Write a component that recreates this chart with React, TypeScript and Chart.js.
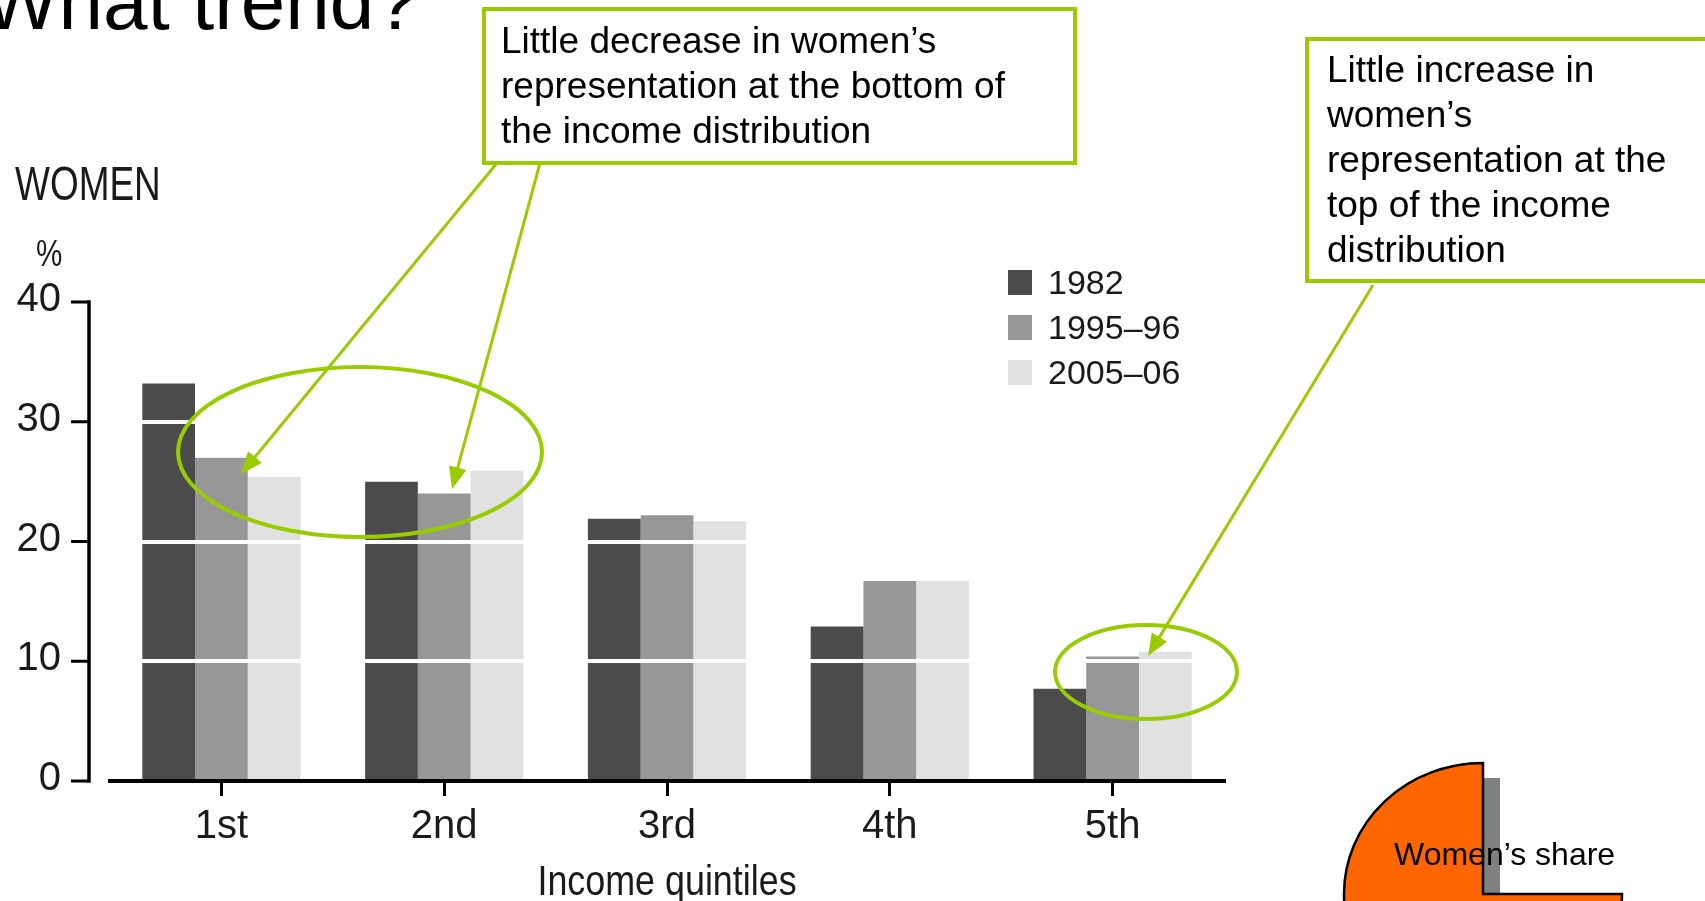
import React, { useEffect, useRef } from "react";
import { Chart, registerables } from "chart.js";

Chart.register(...registerables);

// ---- data ----
const categories = ["1st", "2nd", "3rd", "4th", "5th"];
const seriesLabels = ["1982", "1995–96", "2005–06"];
const values1982 = [33.2, 25.0, 21.9, 12.9, 7.7];
const values1995 = [27.0, 24.0, 22.2, 16.7, 10.4];
const values2005 = [25.4, 25.9, 21.7, 16.7, 10.8];
const seriesColors = ["#4b4b4b", "#979797", "#e1e1e1"];
const yTickValues = [0, 10, 20, 30, 40];
const xTitle = "Income quintiles";

const SANS = "'Liberation Sans', Arial, sans-serif";
const GREEN = "#99cc00";

// top position of a text block so that its first baseline lands at `baseline`
const topFor = (baseline: number, fs: number, lh: number) =>
  baseline - (lh - 1.117 * fs) / 2 - 0.905 * fs;

const customAxisPlugin = {
  id: "customAxis",
  afterDraw(chart: any) {
    const ctx = chart.ctx as CanvasRenderingContext2D;
    const y = chart.scales.y;
    const area = chart.chartArea;
    const axisX = area.left - 21;
    const top = y.getPixelForValue(yTickValues[yTickValues.length - 1]);
    const bottom = y.getPixelForValue(0);
    ctx.save();
    ctx.strokeStyle = "#000";
    ctx.lineWidth = 3.5;
    ctx.lineCap = "butt";
    ctx.beginPath();
    ctx.moveTo(axisX, top - 1.75);
    ctx.lineTo(axisX, bottom + 1.75);
    ctx.stroke();
    ctx.lineWidth = 3;
    ctx.beginPath();
    yTickValues.forEach((v) => {
      const py = y.getPixelForValue(v);
      ctx.moveTo(axisX - 18, py);
      ctx.lineTo(axisX, py);
    });
    ctx.stroke();
    ctx.fillStyle = "#1a1a1a";
    ctx.font = `40px ${SANS}`;
    ctx.textAlign = "right";
    ctx.textBaseline = "middle";
    yTickValues.forEach((v) => {
      const py = y.getPixelForValue(v);
      ctx.fillText(String(v), axisX - 28, py - 2);
    });

    // x-axis title, condensed
    ctx.save();
    ctx.translate((area.left + area.right) / 2, 895);
    ctx.scale(0.834, 1);
    ctx.textAlign = "center";
    ctx.textBaseline = "alphabetic";
    ctx.font = `43px ${SANS}`;
    ctx.fillText(xTitle, 0, 0);
    ctx.restore();

    // legend
    const lx = 1008;
    const ly = 270;
    const step = 45;
    ctx.textAlign = "left";
    ctx.textBaseline = "alphabetic";
    ctx.font = `34px ${SANS}`;
    chart.data.datasets.forEach((ds: any, i: number) => {
      ctx.fillStyle = ds.backgroundColor;
      ctx.fillRect(lx, ly + i * step, 24, 25);
      ctx.fillStyle = "#1a1a1a";
      ctx.fillText(ds.label, lx + 40, ly + 24 + i * step);
    });
    ctx.restore();
  },
};

function Arrow({ x1, y1, x2, y2 }: { x1: number; y1: number; x2: number; y2: number }) {
  const dx = x2 - x1;
  const dy = y2 - y1;
  const len = Math.hypot(dx, dy);
  const ux = dx / len;
  const uy = dy / len;
  const L = 22;
  const W = 9;
  const bx = x2 - ux * L;
  const by = y2 - uy * L;
  const pts = `${x2},${y2} ${bx - uy * W},${by + ux * W} ${bx + uy * W},${by - ux * W}`;
  return (
    <g>
      <line x1={x1} y1={y1} x2={bx + ux * 2} y2={by + uy * 2} stroke={GREEN} strokeWidth={3} />
      <polygon points={pts} fill={GREEN} />
    </g>
  );
}

export default function App() {
  const canvasRef = useRef<HTMLCanvasElement | null>(null);

  useEffect(() => {
    const canvas = canvasRef.current;
    if (!canvas) return;
    const allValues = [values1982, values1995, values2005];
    const chart = new Chart(canvas, {
      type: "bar",
      data: {
        labels: categories,
        datasets: allValues.map((vals, i) => ({
          label: seriesLabels[i],
          data: vals,
          backgroundColor: seriesColors[i],
          borderWidth: 0,
          categoryPercentage: 0.71,
          barPercentage: 1,
        })),
      },
      options: {
        responsive: false,
        animation: false,
        devicePixelRatio: 1,
        layout: { padding: { left: 110, right: 481, top: 302, bottom: 43 } },
        plugins: { legend: { display: false }, tooltip: { enabled: false } },
        scales: {
          x: {
            type: "category",
            offset: true,
            grid: {
              display: true,
              drawOnChartArea: false,
              drawTicks: true,
              tickLength: 15,
              color: "#000",
              lineWidth: 3,
              offset: false,
            },
            border: { display: true, color: "#000", width: 4, z: 2 },
            ticks: {
              font: { family: SANS, size: 40, lineHeight: 1.2 },
              color: "#1a1a1a",
              padding: 7,
              maxRotation: 0,
              autoSkip: false,
            },
            title: { display: false },
          },
          y: {
            min: 0,
            max: 40,
            ticks: { stepSize: 10, display: false },
            grid: {
              color: (c: any) =>
                c.tick && c.tick.value > 0 && c.tick.value < 40 ? "#ffffff" : "rgba(0,0,0,0)",
              lineWidth: 4,
              drawTicks: false,
              z: 1,
            },
            border: { display: false },
          },
        },
      },
      plugins: [customAxisPlugin],
    } as any);
    return () => chart.destroy();
  }, []);

  const boxText: React.CSSProperties = {
    position: "absolute",
    boxSizing: "border-box",
    border: `4px solid ${GREEN}`,
    fontFamily: SANS,
    fontSize: 37,
    lineHeight: "45px",
    color: "#000",
    whiteSpace: "nowrap",
  };

  return (
    <div
      style={{
        position: "fixed",
        left: 0,
        top: 0,
        width: 1705,
        height: 901,
        overflow: "hidden",
        background: "#fff",
      }}
    >
      <canvas
        ref={canvasRef}
        width={1705}
        height={901}
        style={{ position: "absolute", left: 0, top: 0, width: 1705, height: 901 }}
      />
      <svg
        width={1705}
        height={901}
        style={{ position: "absolute", left: 0, top: 0 }}
      >
        <ellipse cx={360} cy={452} rx={182} ry={85} fill="none" stroke={GREEN} strokeWidth={4} />
        <ellipse cx={1146} cy={672} rx={91} ry={47} fill="none" stroke={GREEN} strokeWidth={4} />
        <Arrow x1={497} y1={163} x2={241} y2={474} />
        <Arrow x1={540} y1={163} x2={452} y2={489} />
        <Arrow x1={1373} y1={285} x2={1148} y2={656} />
        <rect x={1484} y={778} width={16} height={120} fill="#808080" />
        <path
          d="M1483,763 L1483,894 L1622,894 A139,131 0 1 1 1483,763 Z"
          fill="#ff6600"
          stroke="#000"
          strokeWidth={2.5}
        />
      </svg>

      <div
        style={{
          position: "absolute",
          left: -17,
          top: topFor(30, 80, 80),
          fontFamily: SANS,
          fontSize: 80,
          lineHeight: "80px",
          color: "#000",
          whiteSpace: "nowrap",
        }}
      >
        What trend?
      </div>

      <div
        style={{
          position: "absolute",
          left: 15,
          top: topFor(201, 48, 48),
          fontFamily: SANS,
          fontSize: 48,
          lineHeight: "48px",
          color: "#1a1a1a",
          whiteSpace: "nowrap",
          transform: "scaleX(0.77)",
          transformOrigin: "0 0",
        }}
      >
        WOMEN
      </div>
      <div
        style={{
          position: "absolute",
          left: 36,
          top: topFor(266, 37, 37),
          fontFamily: SANS,
          fontSize: 37,
          lineHeight: "37px",
          color: "#1a1a1a",
          transform: "scaleX(0.8)",
          transformOrigin: "0 0",
        }}
      >
        %
      </div>

      <div
        style={{
          ...boxText,
          left: 482,
          top: 7,
          width: 595,
          height: 158,
          paddingLeft: 15,
          paddingTop: 7,
        }}
      >
        Little decrease in women’s
        <br />
        representation at the bottom of
        <br />
        the income distribution
      </div>

      <div
        style={{
          ...boxText,
          left: 1305,
          top: 37,
          width: 500,
          height: 246,
          paddingLeft: 18,
          paddingTop: 6,
        }}
      >
        Little increase in
        <br />
        women’s
        <br />
        representation at the
        <br />
        top of the income
        <br />
        distribution
      </div>

      <div
        style={{
          position: "absolute",
          left: 1394,
          top: topFor(865, 32, 32),
          fontFamily: SANS,
          fontSize: 32,
          lineHeight: "32px",
          color: "#000",
          whiteSpace: "nowrap",
        }}
      >
        Women’s share
      </div>
    </div>
  );
}
